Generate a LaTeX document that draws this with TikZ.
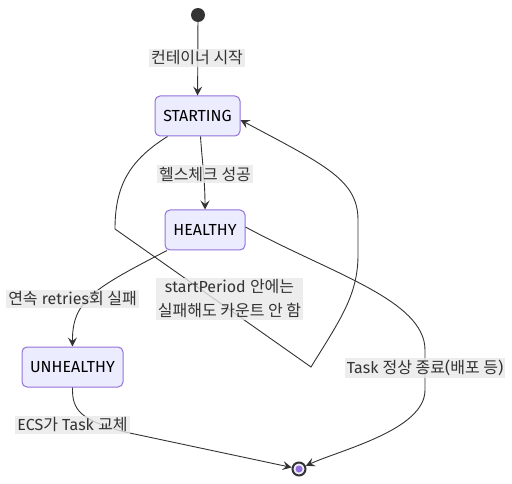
\documentclass[tikz,border=0pt]{standalone}
\usepackage{fontspec}
\setmainfont{Fira Sans}
\newfontfamily\kr{Noto Sans CJK KR}
\usetikzlibrary{arrows.meta}
\definecolor{nodefill}{HTML}{ECECFF}
\definecolor{nodeline}{HTML}{9370DB}
\definecolor{ink}{HTML}{333333}
\definecolor{lblbg}{HTML}{E8E8E8}
\begin{document}
\begin{tikzpicture}[x=1pt,y=-1pt,
  state/.style={draw=nodeline,fill=nodefill,rounded corners=5pt,line width=1pt,
    minimum height=40pt,inner sep=0pt,text=black,font=\fontsize{16}{19}\selectfont},
  lbl/.style={fill=lblbg,fill opacity=0.8,text opacity=1,text=ink,inner sep=2pt,
    align=center,font=\fontsize{16}{24}\selectfont},
  edge/.style={draw=ink,line width=0.9pt,-{Stealth[length=9pt,width=9pt,inset=3.5pt]}},
  plain/.style={draw=ink,line width=0.9pt}]
\useasboundingbox (0,0) rectangle (512,484);
% states
\node[circle,fill=ink,minimum size=14pt,inner sep=0pt] (start) at (198,15) {};
\node[state,minimum width=85pt] (S) at (197.5,116) {STARTING};
\node[state,minimum width=80pt] (H) at (205,230) {HEALTHY};
\node[state,minimum width=101pt] (U) at (72.5,367) {UNHEALTHY};
\node[circle,draw=ink,fill=nodefill,line width=2pt,minimum size=13pt,inner sep=0pt] (end) at (299,469) {};
\node[circle,fill=nodeline,minimum size=7pt,inner sep=0pt] (endin) at (299,469) {};
% edges
\draw[edge] (start) -- (S);
\draw[edge] ([xshift=3pt]S.south) .. controls (202,160) and (205,180) .. (H.north);
\draw[edge] ([xshift=-38pt]H.south) .. controls (95,288) and (72,300) .. (U.north);
\coordinate (la) at (115,229);
\coordinate (lb) at (311,367);
\coordinate (lc) at (358,255);
\coordinate (ld) at (358,220);
\draw[edge] ([xshift=-30pt]S.south) .. controls (130,160) and (115,185) .. (la) -- (lb)
  .. controls (340,320) and (358,295) .. (lc) -- (ld)
  .. controls (358,180) and (325,165) .. ([yshift=-4pt]S.east);
\draw[edge] ([yshift=3pt]H.east) .. controls (330,273) and (425,300) .. (425,350) -- (425,390)
  .. controls (425,430) and (340,450) .. (end);
\draw[edge] (U.south) .. controls (72,410) and (80,420) .. (125,432) -- (end);
% labels
\node[lbl] (l1) at (197,58) {\kr 컨테이너 시작};
\node[lbl] (l2) at (205,174) {\kr 헬스체크 성공};
\node[lbl] (l3) at (72.5,299) {{\kr 연속} retries{\kr 회 실패}};
\node[lbl] (l4) at (229.5,299) {startPeriod {\kr 안에는}\\{\kr 실패해도 카운트 안 함}};
\node[lbl] (l5) at (425,368) {Task {\kr 정상 종료}({\kr 배포 등})};
\node[lbl] (l6) at (72.5,425) {ECS{\kr 가} Task {\kr 교체}};
\end{tikzpicture}
\end{document}
